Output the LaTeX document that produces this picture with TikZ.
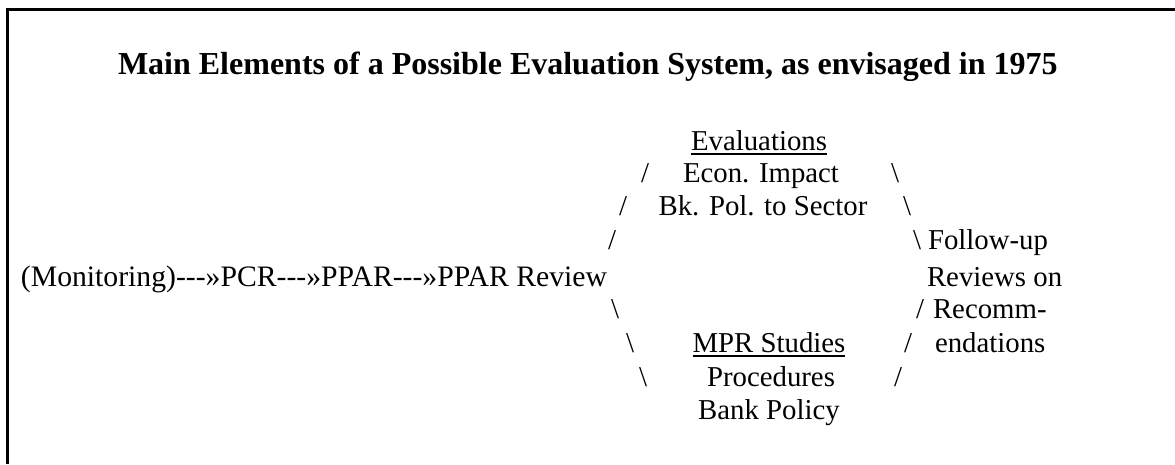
\documentclass[tikz,border=0pt]{standalone}
\usepackage{fontspec}
\setmainfont{Liberation Serif}
\begin{document}
\begin{tikzpicture}[x=1pt,y=-1pt,
  txt/.style={inner sep=0pt, outer sep=0pt, font=\fontsize{28.8}{34}\selectfont},
  rowtxt/.style={inner sep=0pt, outer sep=0pt, font=\fontsize{29.7}{34}\selectfont},
  ttl/.style={inner sep=0pt, outer sep=0pt, font=\fontsize{32}{38}\selectfont\bfseries},
  frame/.style={line width=3pt},
  uline/.style={line width=1.8pt}]
\useasboundingbox (0,0) rectangle (1175,464);
\coordinate (fb) at (7,464);
\coordinate (fc) at (7,9);
\coordinate (fr) at (1175,9);
\draw[frame] (fb) -- (fc) -- (fr);
% title
\node[ttl, anchor=base west] (title) at (118,74) {Main Elements of a Possible Evaluation System, as envisaged in 1975};
% upper branch
\node[txt, anchor=base] (ev) at (759,150) {Evaluations};
\draw[uline] ([yshift=-4pt]ev.base west) -- ([yshift=-4pt]ev.base east);
\node[txt, anchor=base] (s1l) at (645,182) {/};
\node[txt, anchor=base] (econ) at (761,182) {Econ. Impact};
\node[txt, anchor=base] (s1r) at (895,182) {\textbackslash};
\node[txt, anchor=base] (s2l) at (623,215) {/};
\node[txt, anchor=base] (bk) at (763,215) {Bk. Pol. to Sector};
\node[txt, anchor=base] (s2r) at (907,215) {\textbackslash};
\node[txt, anchor=base] (s3l) at (612,249) {/};
\node[txt, anchor=base] (s3r) at (917,249) {\textbackslash};
\node[txt, anchor=base west] (fu) at (928,249) {Follow-up};
% main row
\node[rowtxt, anchor=base] (mon) at (314,286) {(Monitoring)-{}-{}-»PCR-{}-{}-»PPAR-{}-{}-»PPAR Review};
\node[txt, anchor=base west] (rev) at (927,286) {Reviews on};
% lower branch
\node[txt, anchor=base] (s4l) at (615,318) {\textbackslash};
\node[txt, anchor=base] (s4r) at (920,318) {/};
\node[txt, anchor=base west] (rec) at (933,318) {Recomm-};
\node[txt, anchor=base] (s5l) at (630,352) {\textbackslash};
\node[txt, anchor=base] (mpr) at (769,352) {MPR Studies};
\draw[uline] ([yshift=-4pt]mpr.base west) -- ([yshift=-4pt]mpr.base east);
\node[txt, anchor=base] (s5r) at (908,352) {/};
\node[txt, anchor=base west] (end) at (935,352) {endations};
\node[txt, anchor=base] (s6l) at (643,386) {\textbackslash};
\node[txt, anchor=base] (proc) at (771,386) {Procedures};
\node[txt, anchor=base] (s6r) at (898,386) {/};
\node[txt, anchor=base] (bp) at (769,419) {Bank Policy};
\end{tikzpicture}
\end{document}
